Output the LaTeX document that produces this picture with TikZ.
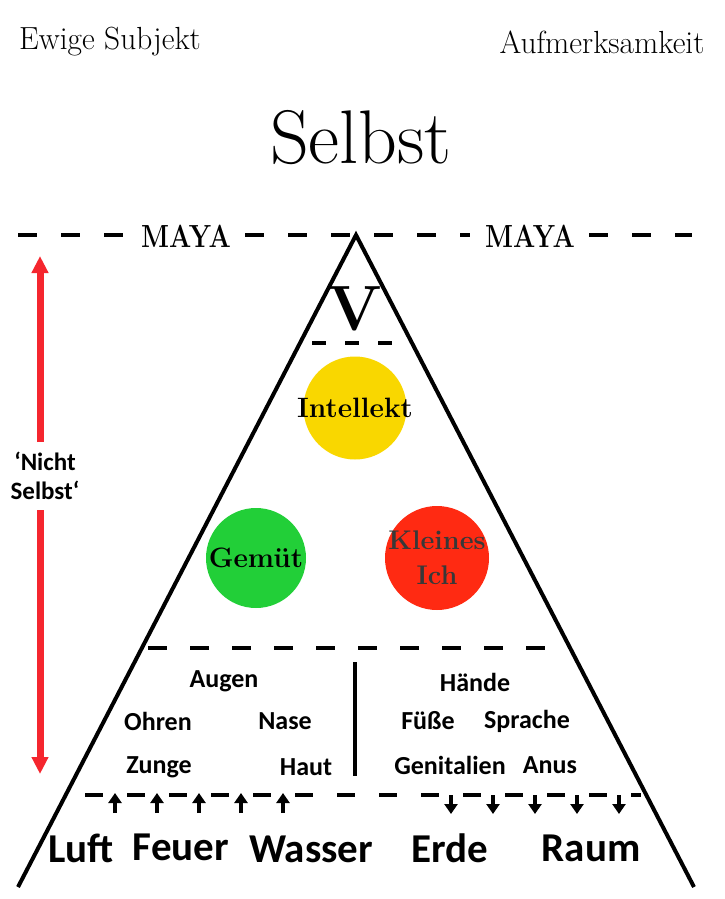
\documentclass[tikz,border=0pt]{standalone}
\usepackage{fontspec}
\newfontfamily\sansb{Carlito}
\usetikzlibrary{arrows.meta}
\definecolor{myyellow}{HTML}{F9D700}
\definecolor{mygreen}{HTML}{22CF38}
\definecolor{myred}{HTML}{FF2A12}
\definecolor{myarrow}{HTML}{F5262E}
\tikzset{
  dashline/.style={line width=4pt, dash pattern=on 19pt off 24pt},
  tri/.style={line width=4pt, line join=miter},
  ball/.style={circle, inner sep=0pt},
  serifb/.style={font=\fontsize{28}{30}\selectfont\bfseries, inner sep=0pt},
  mayalabel/.style={font=\fontsize{32}{34}\selectfont\bfseries, xscale=0.82, inner sep=0pt},
  toplabel/.style={font=\fontsize{32}{34}\selectfont, xscale=0.98, inner sep=0pt},
  senselabel/.style={font=\sansb\bfseries\fontsize{26}{28}\selectfont, inner sep=0pt},
  element/.style={font=\sansb\bfseries\fontsize{41}{44}\selectfont, inner sep=0pt},
  smallar/.style={-{Triangle[length=10pt,width=13pt]}, line width=4.5pt},
  redar/.style={-{Triangle[length=17pt,width=16pt]}, line width=7pt, myarrow},
}
\begin{document}
\begin{tikzpicture}[x=1pt,y=-1pt]
\useasboundingbox (0,0) rectangle (724,899);
% top texts
\node[toplabel] (ewig) at (110,42) {Ewige Subjekt};
\node[toplabel] (aufm) at (602,42) {Aufmerksamkeit};
\node[font=\fontsize{76}{80}\selectfont, inner sep=0pt] (selbst) at (361,138) {Selbst};
% maya line
\node[mayalabel] (maya1) at (186,236) {MAYA};
\node[mayalabel] (maya2) at (530,236) {MAYA};
\coordinate (m1) at (18,235);
\coordinate (m2) at (124,235);
\coordinate (m3) at (245,235);
\coordinate (m4) at (470,235);
\coordinate (m5) at (589,235);
\coordinate (m6) at (692,235);
\draw[dashline] (m1) -- (m2);
\draw[dashline] (m3) -- (m4);
\draw[dashline] (m5) -- (m6);
% triangle
\coordinate (apex) at (356,235);
\coordinate (bl) at (18,887);
\coordinate (br) at (694,887);
\draw[tri] (bl) -- (apex) -- (br);
% V
\node[inner sep=0pt] (v) at (355,309) {\fontsize{64}{66}\selectfont\bfseries V};
\coordinate (vl) at (312,343);
\coordinate (vr) at (410,343);
\draw[line width=4pt, dash pattern=on 14pt off 19pt] (vl) -- (vr);
% circles
\node[ball, fill=myyellow, minimum size=103pt] (intel) at (355,408) {};
\node[serifb] at (intel) {Intellekt};
\node[ball, fill=mygreen, minimum size=100pt] (gem) at (256,558) {};
\node[serifb] at (gem) {Gemüt};
\node[ball, fill=myred, minimum size=104pt] (klein) at (437,558) {};
\node[serifb, align=center, text=black!78, font=\fontsize{27}{35}\selectfont\bfseries] at (klein) {Kleines\\Ich};
% middle dashed line
\coordinate (dl) at (148,648);
\coordinate (dr) at (548,648);
\draw[line width=4pt, dash pattern=on 19pt off 23pt] (dl) -- (dr);
% vertical line
\coordinate (vt) at (355,662);
\coordinate (vb) at (355,776);
\draw[line width=3.5pt] (vt) -- (vb);
% senses
\node[senselabel] (augen) at (224,681) {Augen};
\node[senselabel] (ohren) at (158,721) {Ohren};
\node[senselabel] (nase) at (285,721) {Nase};
\node[senselabel] (zunge) at (159,767) {Zunge};
\node[senselabel] (haut) at (306,767) {Haut};
\node[senselabel] (haende) at (475,682) {Hände};
\node[senselabel] (fuesse) at (428,721) {Füße};
\node[senselabel] (sprache) at (527,721) {Sprache};
\node[senselabel] (genit) at (450,765) {Genitalien};
\node[senselabel] (anus) at (550,765) {Anus};
% bottom dashed line
\coordinate (bdl) at (85,795);
\coordinate (bdr) at (641,795);
\draw[line width=4pt, dash pattern=on 18pt off 24pt] (bdl) -- (bdr);
% arrows
\foreach \x [count=\i] in {115,157,199,241,283}{
  \coordinate (ua\i) at (\x,813);
  \coordinate (ub\i) at (\x,793);
  \draw[smallar] (ua\i) -- (ub\i);
}
\foreach \x [count=\i] in {451,493,535,577,619}{
  \coordinate (da\i) at (\x,795);
  \coordinate (db\i) at (\x,814);
  \draw[smallar] (da\i) -- (db\i);
}
% elements
\node[element] (luft) at (81,848) {Luft};
\node[element] (feuer) at (181,847) {Feuer};
\node[element] (wasser) at (311,849) {Wasser};
\node[element] (erde) at (450,848) {Erde};
\node[element] (raum) at (591,848) {Raum};
% nicht selbst
\node[font=\sansb\bfseries\fontsize{25}{29}\selectfont, align=center, inner sep=0pt] (ns) at (45,476) {‘Nicht\\Selbst‘};
\coordinate (rtop) at (40,256);
\coordinate (rbot) at (40,774);
\coordinate (rs1) at (40,442);
\coordinate (rs2) at (40,510);
\draw[redar] (rs1) -- (rtop);
\draw[redar] (rs2) -- (rbot);
\end{tikzpicture}
\end{document}
